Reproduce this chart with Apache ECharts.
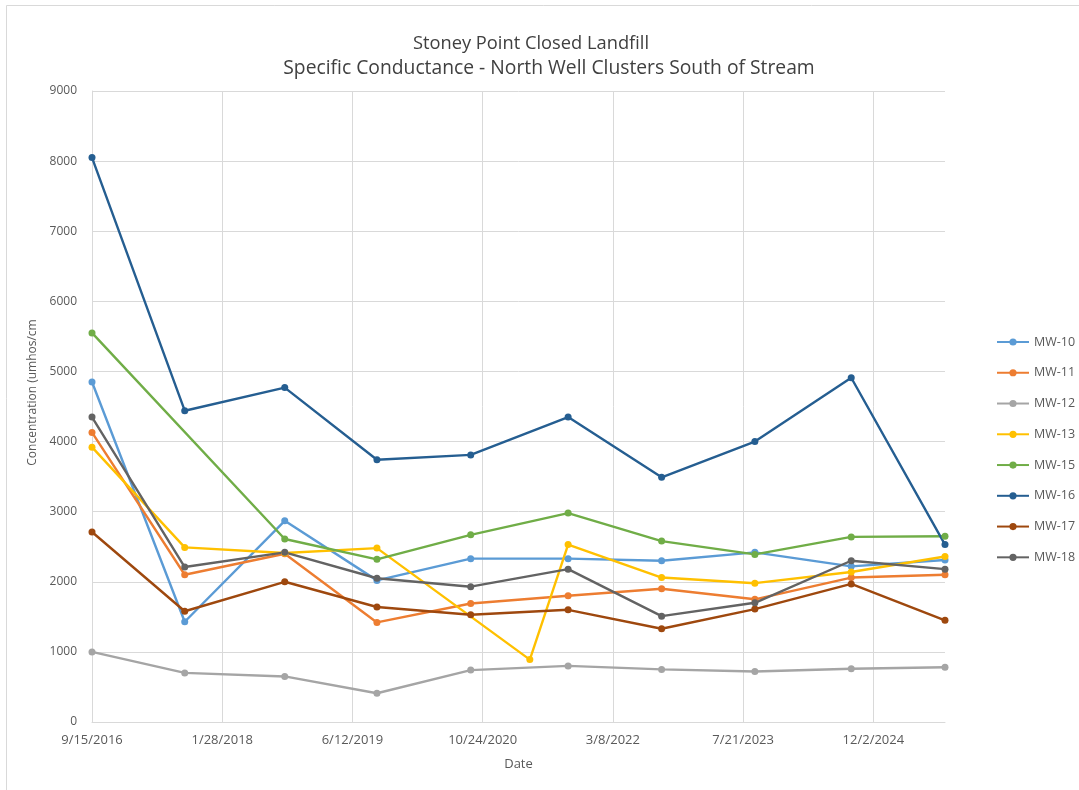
<!DOCTYPE html>
<html>
<head>
<meta charset="utf-8">
<script src="https://cdn.jsdelivr.net/npm/echarts@6/dist/echarts.min.js"></script>
<style>html,body{margin:0;padding:0;background:#fff}#c{width:1079px;height:790px}</style>
</head>
<body>
<div id="c"></div>
<script>
// Sampling dates (MW-13 has one extra sample in April 2021)
const sampleDates = ['2016-09-15','2017-09-06','2018-09-25','2019-09-14','2020-09-08','2021-04-23','2021-09-17','2022-09-11','2023-09-04','2024-09-08','2025-09-03'];
const wellNames = ['MW-10','MW-11','MW-12','MW-13','MW-15','MW-16','MW-17','MW-18'];
const mw10 = [4850,1430,2870,2020,2330,null,2330,2300,2420,2220,2310];
const mw11 = [4130,2100,2400,1420,1690,null,1800,1900,1750,2060,2100];
const mw12 = [1000,700,650,410,740,null,800,750,720,760,780];
const mw13 = [3920,2490,2410,2480,null,890,2530,2060,1980,2140,2360];
const mw15 = [5550,null,2610,2320,2670,null,2980,2580,2390,2640,2650];
const mw16 = [8050,4440,4770,3740,3810,null,4350,3490,4000,4910,2530];
const mw17 = [2710,1580,2000,1640,1530,null,1600,1330,1610,1970,1450];
const mw18 = [4350,2210,2420,2050,1930,null,2180,1510,1700,2300,2180];
const yTicks = [0,1000,2000,3000,4000,5000,6000,7000,8000,9000];
const titleLines = ['Stoney Point Closed Landfill','Specific Conductance - North Well Clusters South of Stream'];
const colors = ['#5B9BD5','#ED7D31','#A5A5A5','#FFC000','#70AD47','#255E91','#9E480E','#636363'];

const DAY = 86400000;
const origin = Date.UTC(2016, 8, 15);
function toDays(s){const p=s.split('-').map(Number);return Math.round((Date.UTC(p[0],p[1]-1,p[2])-origin)/DAY);}
function fmt(d){const t=new Date(origin + d*DAY);return (t.getUTCMonth()+1)+'/'+t.getUTCDate()+'/'+t.getUTCFullYear();}
const xs = sampleDates.map(toDays);
const allVals = [mw10,mw11,mw12,mw13,mw15,mw16,mw17,mw18];
const FONT = 'Open Sans';

const series = wellNames.map((n,i)=>({
  name:n, type:'line', symbol:'circle', symbolSize:7, showSymbol:true,
  color:colors[i], lineStyle:{width:2.4,color:colors[i]}, itemStyle:{color:colors[i]},
  emphasis:{disabled:true}, animation:false,
  data: allVals[i].map((v,k)=>v==null?null:[xs[k],v]).filter(d=>d)
}));

const chart = echarts.init(document.getElementById('c'));
chart.setOption({
  animation:false,
  backgroundColor:'#fff',
  graphic:[{type:'rect',shape:{x:6.5,y:5.5,width:1100,height:820},style:{fill:null,stroke:'#d9d9d9',lineWidth:1},silent:true,z:-1}],
  title:[
    {text:titleLines[0], left:531, top:35, textAlign:'center', padding:0,
     textStyle:{fontFamily:FONT,fontSize:18.3,fontWeight:'normal',color:'#404040'}},
    {text:titleLines[1], left:549, top:59, textAlign:'center', padding:0,
     textStyle:{fontFamily:FONT,fontSize:19.3,fontWeight:'normal',color:'#404040'}}
  ],
  legend:{
    orient:'vertical', left:996, top:335.5, padding:0, itemWidth:32, itemHeight:9, itemGap:17.76,
    textStyle:{fontFamily:FONT,fontSize:12.5,color:'#595959'},
    data:wellNames
  },
  grid:{left:92,right:134,top:91,bottom:68,containLabel:false},
  xAxis:{
    type:'value', min:0, max:xs[xs.length-1], interval:500,
    name:'Date', nameLocation:'middle', nameGap:36,
    nameTextStyle:{fontFamily:FONT,fontSize:13,color:'#595959'},
    axisLine:{show:true,lineStyle:{color:'#d9d9d9',width:1}},
    axisTick:{show:false},
    axisLabel:{formatter:fmt,showMaxLabel:false,margin:12,fontFamily:FONT,fontSize:13,color:'#595959'},
    splitLine:{show:true,showMaxLine:false,lineStyle:{color:'#d9d9d9',width:1}}
  },
  yAxis:{
    type:'value', min:yTicks[0], max:yTicks[yTicks.length-1], interval:1000,
    name:'Concentration (umhos/cm', nameLocation:'middle', nameGap:41,
    nameTextStyle:{fontFamily:FONT,fontSize:12,color:'#595959',padding:[0,0,0,28]},
    axisLine:{show:true,lineStyle:{color:'#d9d9d9',width:1}},
    axisTick:{show:false},
    axisLabel:{formatter:v=>String(v),margin:15,fontFamily:FONT,fontSize:12,color:'#595959'},
    splitLine:{show:true,lineStyle:{color:'#d9d9d9',width:1}}
  },
  series:series
});
</script>
</body>
</html>
